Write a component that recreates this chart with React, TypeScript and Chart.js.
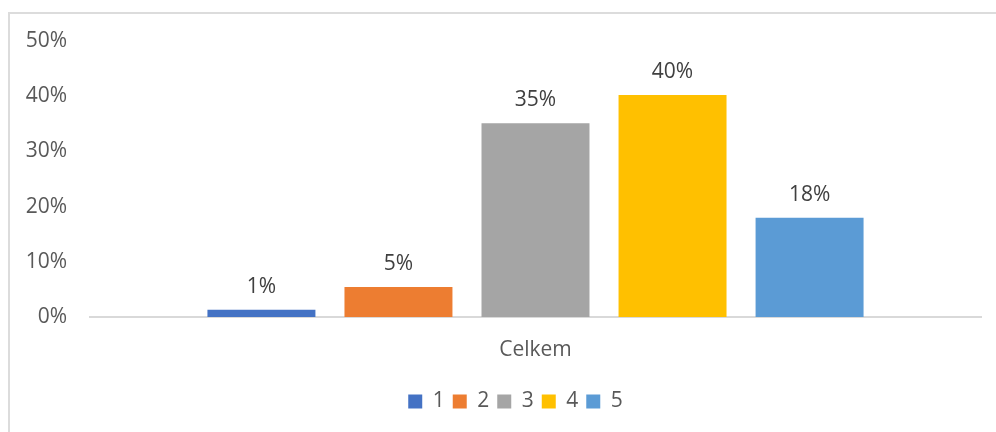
import React, { useEffect, useRef } from "react";
import { Chart, registerables } from "chart.js";

Chart.register(...registerables);

const categories = ["Celkem"];
const seriesNames = ["1", "2", "3", "4", "5"];
const seriesValues = [1.3, 5.45, 35.1, 40.2, 18.0];
const seriesColors = ["#4472C4", "#ED7D31", "#A5A5A5", "#FFC000", "#5B9BD5"];
const yTicksMax = 50;
const yTicksStep = 10;

const FONT = "'Open Sans', 'Noto Sans', sans-serif";

const dataLabelPlugin = {
  id: "dataLabels",
  afterLayout(chart: any) {
    if (chart.legend) {
      chart.legend.left += 20;
      chart.legend.right += 20;
    }
  },
  afterDatasetsDraw(chart: any) {
    const ctx = chart.ctx;
    ctx.save();
    ctx.font = `21px ${FONT}`;
    ctx.fillStyle = "#404040";
    ctx.textAlign = "center";
    ctx.textBaseline = "alphabetic";
    chart.data.datasets.forEach((ds: any, i: number) => {
      const meta = chart.getDatasetMeta(i);
      meta.data.forEach((el: any, j: number) => {
        const v = ds.data[j];
        ctx.fillText(Math.round(v) + "%", el.x, el.y - 17);
      });
    });
    ctx.restore();
  },
};

export default function App() {
  const ref = useRef<HTMLCanvasElement>(null);
  useEffect(() => {
    if (!ref.current) return;
    const chart = new Chart(ref.current, {
      type: "bar",
      data: {
        labels: categories,
        datasets: seriesNames.map((n, i) => ({
          label: n,
          data: [seriesValues[i]],
          backgroundColor: seriesColors[i],
          borderWidth: 0,
          categoryPercentage: 0.769,
          barPercentage: 0.788,
        })),
      },
      options: {
        animation: false,
        responsive: true,
        maintainAspectRatio: false,
        layout: { padding: { left: 0, right: 15, top: 27, bottom: 10 } },
        plugins: {
          tooltip: { enabled: false },
          legend: {
            position: "bottom",
            labels: {
              boxWidth: 14,
              boxHeight: 14,
              padding: 8,
              color: "#595959",
              font: { family: FONT, size: 21 },
            },
          },
        },
        scales: {
          x: {
            grid: { display: false, drawTicks: false },
            border: { display: true, color: "#d9d9d9", width: 2 },
            ticks: { color: "#595959", font: { family: FONT, size: 21 }, padding: 20 },
            afterFit: (s: any) => {
              s.height = 66;
            },
          },
          y: {
            min: 0,
            max: yTicksMax,
            grid: { display: false, drawTicks: false },
            border: { display: false },
            ticks: {
              stepSize: yTicksStep,
              color: "#595959",
              font: { family: FONT, size: 21 },
              padding: 23,
              callback: (v: any) => v + "%",
            },
            afterFit: (s: any) => {
              s.width = 80;
              s.paddingTop = 0;
              s.paddingBottom = 0;
            },
          },
        },
      },
      plugins: [dataLabelPlugin],
    });
    return () => chart.destroy();
  }, []);
  return (
    <div
      style={{
        position: "absolute",
        left: 8,
        top: 12,
        width: 1000,
        height: 430,
        borderLeft: "2px solid #dcdcdc",
        borderTop: "2px solid #dcdcdc",
        boxSizing: "border-box",
        background: "#fff",
      }}
    >
      <div style={{ position: "relative", width: 986, height: 418 }}>
        <canvas ref={ref} />
      </div>
    </div>
  );
}
